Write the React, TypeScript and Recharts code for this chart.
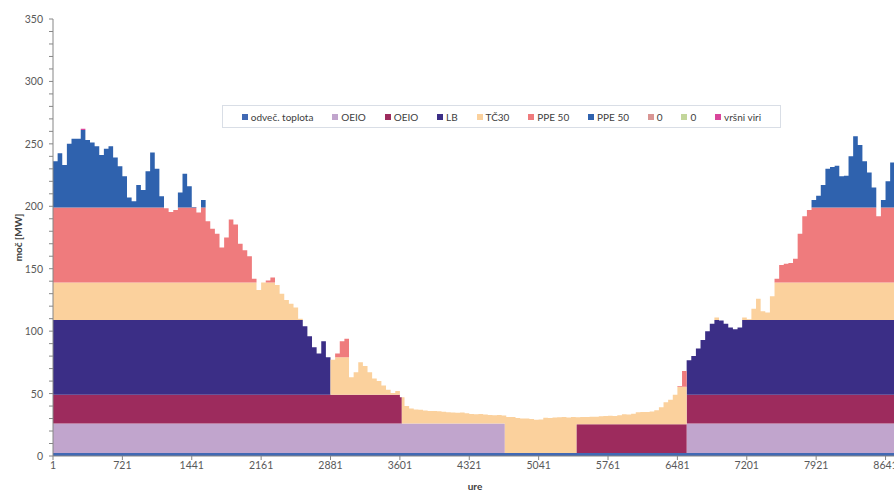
import { Area, AreaChart, Legend, XAxis, YAxis } from 'recharts';

// heat sources in merit order (bottom of the stack first)
const SOURCES = ['odveč. toplota', 'OEIO', 'OEIO', 'LB', 'TČ30', 'PPE 50', 'PPE 50', '0', '0', 'vršni viri'];
const COLORS = ['#4169b4', '#c1a5cd', '#9d2b5d', '#3b2e86', '#fbd19d', '#ef7b7d', '#2f62ae', '#d99694', '#c3d69b', '#d9469b'];
// installed power per source [MW]
const CAPACITY = [2.5, 23.5, 23, 60, 30, 60, 62, 0, 0, Infinity];
// [source index, off from hour, back on at hour]
const OUTAGES = [
  [1, 4690, 6577],
  [2, 3621, 5433],
  [3, 2881, 6577],
];

const STEP_HOURS = 48;
// total heat demand [MW], one value per 48 h
const LOAD = [
  236, 242.5, 233, 250, 254, 254, 262, 253, 251, 248,
  241, 246, 248, 239, 232, 224, 207, 204, 217, 213,
  228, 243, 230, 208, 198.5, 195.5, 197, 211, 226, 216,
  199.5, 195, 205, 188, 182, 178, 167, 175, 189.5, 185.5,
  170, 164.7, 160, 142, 133, 139, 140.5, 143, 137, 130,
  125, 122, 119, 110, 104, 96, 87, 82, 92, 79,
  77, 82, 92, 94, 63, 67, 75, 72, 67, 62,
  60, 56.5, 53, 50.5, 52, 47, 40, 38, 37.2, 37,
  36.5, 36, 36, 35.8, 35.5, 35, 34.8, 34.6, 34.8, 34.2,
  33.6, 33.4, 33.6, 33.2, 32.8, 32.6, 32.8, 32.4, 31.3, 31.2,
  30.4, 30, 30, 29.6, 29.1, 29.2, 30.6, 30.4, 30.8, 31,
  31.2, 30.8, 31.3, 31, 31.3, 31.2, 31.5, 31.4, 31.8, 32,
  32.2, 32, 32.6, 33.4, 33.2, 33.8, 35, 35.3, 35.2, 35.6,
  36.6, 39, 43, 45, 49, 56, 68, 76.6, 80, 86,
  93, 100, 106, 111, 108.5, 106, 103, 101.5, 103, 111,
  109.5, 118, 126, 116, 115, 128, 142, 153, 154, 154.5,
  158, 178, 192, 197, 205, 208.5, 217, 230, 231.5, 232.5,
  224, 224.5, 240, 256, 249, 236, 227, 215, 192, 205,
  220, 235, 238,
];

const X_TICKS = [1, 721, 1441, 2161, 2881, 3601, 4321, 5041, 5761, 6481, 7201, 7921, 8641];
const Y_TICKS = [
  0, 10, 20, 30, 40, 50, 60, 70, 80, 90, 100, 110, 120, 130, 140, 150, 160, 170,
  180, 190, 200, 210, 220, 230, 240, 250, 260, 270, 280, 290, 300, 310, 320, 330, 340, 350,
];

function isOff(k: number, hour: number) {
  return OUTAGES.some(([s, from, to]) => s === k && hour >= from && hour < to);
}

function buildRows() {
  const hours = new Set<number>();
  LOAD.forEach((_, i) => hours.add(1 + i * STEP_HOURS));
  OUTAGES.forEach(([, from, to]) => {
    hours.add(from);
    hours.add(to);
  });
  hours.add(8760);

  return [...hours]
    .sort((a, b) => a - b)
    .map((hour) => {
      const idx = Math.min(LOAD.length - 1, Math.floor((hour - 1) / STEP_HOURS));
      let rest = LOAD[idx];
      const row: Record<string, number> = { hour };
      SOURCES.forEach((_, k) => {
        const cap = isOff(k, hour) ? 0 : CAPACITY[k];
        const v = Math.max(0, Math.min(cap, rest));
        row['s' + k] = v;
        rest -= v;
      });
      return row;
    });
}

const data = buildRows();

const tickText = { fontSize: 10.5, fill: '#595959' };

function YTick({ x, y, payload }: any) {
  if (payload.value % 50 !== 0) return <g />;
  return (
    <text x={x} y={y} dy={4} textAnchor="end" {...tickText}>
      {payload.value}
    </text>
  );
}

function LegendBox() {
  return (
    <div
      style={{
        boxSizing: 'border-box',
        width: 559,
        height: 23,
        border: '1px solid #d9dee6',
        background: '#fff',
        display: 'flex',
        alignItems: 'center',
        justifyContent: 'space-evenly',
        fontSize: 10,
        color: '#404040',
      }}
    >
      {SOURCES.map((name, k) => (
        <span key={k} style={{ display: 'flex', alignItems: 'center', whiteSpace: 'nowrap' }}>
          <span style={{ width: 6, height: 6, background: COLORS[k], marginRight: 3 }} />
          {name}
        </span>
      ))}
    </div>
  );
}

export default function App() {
  return (
    <div
      style={{
        position: 'fixed',
        left: 0,
        top: 0,
        width: 894,
        height: 491,
        overflow: 'hidden',
        background: '#fff',
        fontFamily: 'Lato, "Open Sans", sans-serif',
      }}
    >
      <AreaChart width={900} height={491} data={data} margin={{ top: 19, right: 3, bottom: 0, left: 0 }}>
        <XAxis
          dataKey="hour"
          type="number"
          domain={[1, 8760]}
          ticks={X_TICKS}
          interval={0}
          tick={tickText}
          tickSize={4}
          tickMargin={2}
          height={35}
          stroke="#868686"
          label={{ value: 'ure', position: 'insideBottom', offset: 1, fontSize: 10, fill: '#404040', fontWeight: 700 }}
        />
        <YAxis
          type="number"
          domain={[0, 350]}
          ticks={Y_TICKS}
          interval={0}
          tick={<YTick />}
          tickSize={4}
          tickMargin={6}
          width={53}
          stroke="#868686"
          label={{
            value: 'moč [MW]',
            angle: -90,
            position: 'insideLeft',
            offset: 18,
            style: { textAnchor: 'middle' },
            fontSize: 10,
            fill: '#404040',
            fontWeight: 700,
          }}
        />
        <Legend
          verticalAlign="middle"
          align="center"
          layout="horizontal"
          wrapperStyle={{ left: 222, top: 105, width: 559, height: 23 }}
          content={() => <LegendBox />}
        />
        {SOURCES.map((name, k) => (
          <Area
            key={k}
            type="stepAfter"
            dataKey={'s' + k}
            name={name}
            stackId="heat"
            stroke="none"
            fill={COLORS[k]}
            fillOpacity={1}
            dot={false}
            activeDot={false}
            isAnimationActive={false}
          />
        ))}
      </AreaChart>
    </div>
  );
}
